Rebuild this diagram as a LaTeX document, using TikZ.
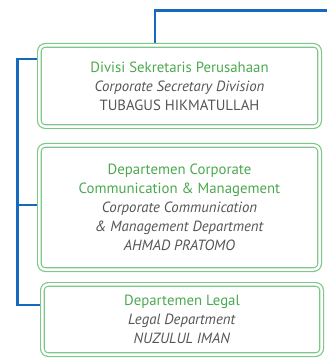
\documentclass[tikz,border=0pt]{standalone}
\usepackage{fontspec}
\setmainfont{PT Sans}
\usetikzlibrary{backgrounds}
\definecolor{orgblue}{RGB}{21,106,190}
\definecolor{boxgreen}{RGB}{125,200,135}
\definecolor{txtgreen}{RGB}{76,168,80}
\definecolor{txtgray}{RGB}{85,85,85}
\tikzset{
  unitbox/.style={draw=boxgreen, line width=1.2pt, double=white, double distance=2.4pt,
    rounded corners=6pt, inner sep=0pt, align=center, text=txtgray,
    font=\fontsize{14.8}{19}\selectfont},
  link/.style={draw=orgblue, line width=2.6pt},
}
\newcommand{\gline}[1]{\textcolor{txtgreen}{#1}}
\begin{document}
\begin{tikzpicture}[x=1pt,y=-1pt]
\useasboundingbox (0,0) rectangle (327,358);
\node[unitbox, minimum width=280.2pt, minimum height=81.2pt] (box1) at (179.5,86)
  {\gline{Divisi Sekretaris Perusahaan}\\ \textit{Corporate Secretary Division}\\ TUBAGUS HIKMATULLAH};
\node[unitbox, minimum width=280.2pt, minimum height=124.2pt] (box2) at (179.5,207.5)
  {\gline{Departemen Corporate}\\ \gline{Communication \& Management}\\ \textit{Corporate Communication}\\ \textit{\& Management Department}\\ \textit{AHMAD PRATOMO}};
\node[unitbox, minimum width=279.2pt, minimum height=70.2pt] (box3) at (182,319.5)
  {\gline{Departemen Legal}\\ \textit{Legal Department}\\ \textit{NUZULUL IMAN}};
\coordinate (top) at (154.8,10.5);
\coordinate (topend) at (327,10.5);
\coordinate (j1) at (17.3,59);
\coordinate (j2) at (17.3,205);
\coordinate (j3) at (17.3,305);
\begin{pgfonlayer}{background}
\draw[link] (box1.north -| top) -- (top) -- (topend);
\draw[link] (box1.west |- j1) -- (j1) -- (j3) -- (box3.west |- j3);
\draw[link] (j2) -- (box2.west |- j2);
\end{pgfonlayer}
\end{tikzpicture}
\end{document}
